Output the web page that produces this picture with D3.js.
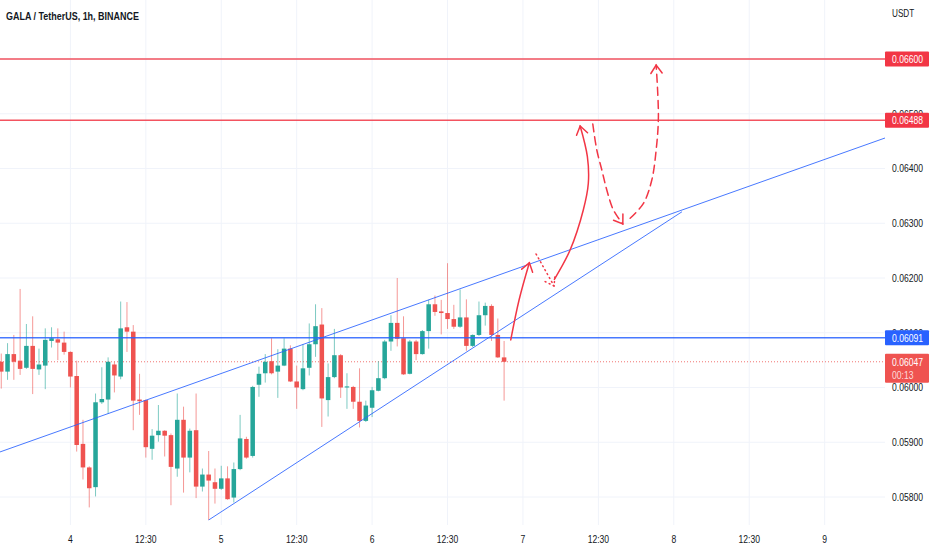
<!DOCTYPE html>
<html>
<head>
<meta charset="utf-8">
<script src="https://cdn.jsdelivr.net/npm/d3@7"></script>
<style>
  body { margin: 0; background: #fff; }
  svg { display: block; font-family: "Liberation Sans", Arial, sans-serif; }
</style>
</head>
<body>
<div id="chart"></div>
<script>
// hourly candles, first one is 11h before day 4 00:00
var firstHour = -11;
var openP  = [0.06047,0.06029,0.06061,0.06049,0.06036,0.06076,0.06033,0.06040,0.06085,0.06088,0.06082,0.06065,0.06021,0.05897,0.05854,0.05818,0.05973,0.05978,0.06042,0.06020,0.06110,0.06102,0.05978,0.05977,0.05888,0.05913,0.05921,0.05913,0.05852,0.05941,0.05872,0.05922,0.05819,0.05841,0.05827,0.05815,0.05834,0.05799,0.05851,0.05906,0.05875,0.06005,0.06026,0.06048,0.06029,0.06040,0.06071,0.06011,0.05997,0.06036,0.06079,0.06115,0.05977,0.06019,0.06059,0.06000,0.06001,0.05974,0.05939,0.05963,0.05994,0.06017,0.06084,0.06118,0.06090,0.06025,0.06084,0.06061,0.06103,0.06152,0.06139,0.06136,0.06125,0.06111,0.06128,0.06076,0.06096,0.06132,0.06149,0.06096,0.06055];
var highP  = [0.06062,0.06081,0.06096,0.06180,0.06116,0.06130,0.06071,0.06108,0.06110,0.06108,0.06102,0.06066,0.06049,0.05941,0.05856,0.05989,0.06037,0.06055,0.06047,0.06157,0.06156,0.06114,0.06025,0.05978,0.05924,0.05968,0.05922,0.05916,0.05989,0.05965,0.05925,0.05989,0.05852,0.05884,0.05852,0.05857,0.05856,0.05863,0.05950,0.05910,0.06003,0.06038,0.06061,0.06090,0.06070,0.06090,0.06077,0.06040,0.06079,0.06117,0.06152,0.06145,0.06044,0.06107,0.06061,0.06026,0.06003,0.06035,0.05976,0.06001,0.06048,0.06087,0.06132,0.06200,0.06130,0.06087,0.06087,0.06105,0.06160,0.06168,0.06160,0.06227,0.06151,0.06179,0.06161,0.06097,0.06157,0.06155,0.06152,0.06126,0.06085];
var lowP   = [0.05998,0.06014,0.06014,0.06023,0.06034,0.05988,0.06023,0.05997,0.06073,0.06050,0.06060,0.06000,0.05883,0.05832,0.05781,0.05801,0.05970,0.05952,0.05991,0.06015,0.06065,0.05922,0.05950,0.05872,0.05868,0.05901,0.05874,0.05785,0.05837,0.05808,0.05845,0.05798,0.05810,0.05758,0.05788,0.05813,0.05795,0.05790,0.05849,0.05870,0.05872,0.05983,0.06009,0.06024,0.05981,0.06039,0.06010,0.05961,0.05995,0.06022,0.06056,0.05928,0.05947,0.06017,0.05981,0.05961,0.05961,0.05927,0.05937,0.05946,0.05993,0.06015,0.06067,0.06075,0.06023,0.06024,0.06050,0.06060,0.06071,0.06131,0.06097,0.06107,0.06107,0.06109,0.06067,0.06074,0.06094,0.06113,0.06085,0.06054,0.05976];
var closeP = [0.06029,0.06061,0.06047,0.06034,0.06076,0.06034,0.06042,0.06087,0.06090,0.06082,0.06065,0.06020,0.05895,0.05854,0.05816,0.05973,0.05979,0.06047,0.06022,0.06108,0.06102,0.05976,0.05975,0.05891,0.05912,0.05921,0.05912,0.05855,0.05941,0.05872,0.05921,0.05819,0.05841,0.05830,0.05815,0.05834,0.05796,0.05851,0.05907,0.05872,0.06001,0.06025,0.06047,0.06026,0.06040,0.06071,0.06011,0.06000,0.06035,0.06079,0.06112,0.05980,0.06019,0.06059,0.06000,0.06002,0.05974,0.05939,0.05967,0.05995,0.06017,0.06084,0.06118,0.06089,0.06024,0.06084,0.06061,0.06103,0.06152,0.06138,0.06136,0.06125,0.06111,0.06128,0.06076,0.06096,0.06132,0.06149,0.06096,0.06055,0.06047];

// axes
var priceTicks = [0.058,0.059,0.060,0.061,0.062,0.063,0.064,0.065,0.066];
var timeTicks  = [0,12,24,36,48,60,72,84,96,108,120];
var timeLabels = ["4","12:30","5","12:30","6","12:30","7","12:30","8","12:30","9"];

// drawings: [hour, price]
var redLevels  = [0.06600, 0.06488];
var blueLevels = [0.06091];
var lastPrice  = 0.06047;
var countdown  = "00:13";
var upperTrend = [[-11.22, 0.058822], [129.6, 0.064557]];
var lowerTrend = [[22, 0.05758], [97.3, 0.06321]];
var arrowA = [[70.06,0.060868],[71.38,0.061598],[73.02,0.062279]];
var arrowB = [[74.09,0.062438],[76.95,0.061854]];
var arrowC = [[77.0,0.061976],[79.5,0.062511],[81.6,0.063242],[82.4,0.063730],[82.25,0.064216],[81.1,0.064776]];
var arrowD = [[83.11,0.064813],[83.75,0.064338],[84.55,0.063973],[85.34,0.063607],[86.39,0.063242],[87.89,0.062986]];
var arrowE = [[89.05,0.063090],[91.17,0.063364],[92.5,0.063790],[93.19,0.064338],[93.55,0.064946],[93.19,0.065890]];

var W = 932, H = 550,
    plotW = 885, plotH = 525,
    squeeze = 0.78;   // the screenshot fonts are narrow

var svg = d3.select('#chart')
    .append('svg')
    .attr('width', W)
    .attr('height', H);

var x = d3.scaleLinear()
    .domain([-11.2, 129.6])
    .range([0, plotW]);

var y = d3.scaleLinear()
    .domain([0.058, 0.066])
    .range([497, 59]);

var candles = openP.map(function (o, i) {
    return { t: firstHour + i, o: o, h: highP[i], l: lowP[i], c: closeP[i] };
});

var green = '#26a69a', red = '#ef5350', lineRed = '#f23645', blue = '#2962ff';

function label(px, py, str, size, fill) {
    return svg.append('text')
        .attr('transform', `translate(${px},${py}) scale(${squeeze},1)`)
        .attr('font-size', size)
        .attr('fill', fill)
        .text(str);
}

// grid
svg.append('g').selectAll('line')
    .data(priceTicks)
    .enter().append('line')
    .attr('x1', 0).attr('x2', plotW)
    .attr('y1', d => y(d)).attr('y2', d => y(d))
    .attr('stroke', '#f0f3fa');

svg.append('g').selectAll('line')
    .data(timeTicks)
    .enter().append('line')
    .attr('x1', d => x(d)).attr('x2', d => x(d))
    .attr('y1', 0).attr('y2', plotH)
    .attr('stroke', '#f0f3fa');

// current price line
svg.append('line')
    .attr('x1', 0).attr('x2', plotW)
    .attr('y1', y(lastPrice)).attr('y2', y(lastPrice))
    .attr('stroke', red)
    .attr('stroke-dasharray', '1,2')
    .attr('opacity', 0.8);

// candles
var bw = (x(1) - x(0)) * 0.72;
var cg = svg.append('g');

cg.selectAll('line.wick')
    .data(candles)
    .enter().append('line')
    .attr('class', 'wick')
    .attr('x1', d => x(d.t)).attr('x2', d => x(d.t))
    .attr('y1', d => y(d.h)).attr('y2', d => y(d.l))
    .attr('stroke', d => d.c >= d.o ? green : red)
    .attr('stroke-opacity', 0.6);

cg.selectAll('rect')
    .data(candles)
    .enter().append('rect')
    .attr('x', d => x(d.t) - bw / 2)
    .attr('width', bw)
    .attr('y', d => y(Math.max(d.o, d.c)))
    .attr('height', d => Math.max(1, Math.abs(y(d.o) - y(d.c))))
    .attr('fill', d => d.c >= d.o ? green : red);

// trend lines
[upperTrend, lowerTrend].forEach(function (t) {
    svg.append('line')
        .attr('x1', x(t[0][0])).attr('y1', y(t[0][1]))
        .attr('x2', x(t[1][0])).attr('y2', y(t[1][1]))
        .attr('stroke', blue)
        .attr('stroke-width', 1)
        .attr('opacity', 0.85);
});

// horizontal levels
svg.append('g').selectAll('line')
    .data(redLevels)
    .enter().append('line')
    .attr('x1', 0).attr('x2', plotW)
    .attr('y1', d => y(d)).attr('y2', d => y(d))
    .attr('stroke', lineRed)
    .attr('stroke-width', 1.5)
    .attr('opacity', 0.85);

svg.append('g').selectAll('line')
    .data(blueLevels)
    .enter().append('line')
    .attr('x1', 0).attr('x2', plotW)
    .attr('y1', d => y(d)).attr('y2', d => y(d))
    .attr('stroke', blue)
    .attr('stroke-width', 1.5)
    .attr('opacity', 0.85);

// arrows
var curve = d3.line()
    .x(d => x(d[0]))
    .y(d => y(d[1]))
    .curve(d3.curveCatmullRom);

function arrow(pts, dash, headDash) {
    var g = svg.append('g')
        .attr('fill', 'none')
        .attr('stroke', lineRed)
        .attr('stroke-width', 1.5)
        .attr('stroke-linecap', 'round');
    g.append('path')
        .attr('stroke-dasharray', dash)
        .attr('d', curve(pts));
    var n = pts.length;
    var tx = x(pts[n - 1][0]), ty = y(pts[n - 1][1]);
    var px = x(pts[n - 2][0]), py = y(pts[n - 2][1]);
    var a = Math.atan2(py - ty, px - tx), len = 10, sp = 0.6;
    g.append('path')
        .attr('stroke-dasharray', headDash)
        .attr('d', 'M' + (tx + len * Math.cos(a - sp)) + ',' + (ty + len * Math.sin(a - sp)) +
                   'L' + tx + ',' + ty +
                   'L' + (tx + len * Math.cos(a + sp)) + ',' + (ty + len * Math.sin(a + sp)));
}

arrow(arrowA, null, null);
arrow(arrowB, '1,3.5', '1,3.5');
arrow(arrowC, null, null);
arrow(arrowD, '8,5', null);
arrow(arrowE, '8,5', null);

// title
label(6, 20, 'GALA / TetherUS, 1h, BINANCE', 11.5, '#131722')
    .attr('font-weight', 600);

// price axis
label(892, 17, 'USDT', 10.5, '#131722');

priceTicks.forEach(function (p) {
    label(892, y(p), p.toFixed(5), 11, '#131722').attr('dy', '0.35em');
});

// time axis
timeTicks.forEach(function (t, i) {
    label(x(t), 543, timeLabels[i], 11, '#131722').attr('text-anchor', 'middle');
});

// price labels
function priceBox(p, color) {
    svg.append('rect')
        .attr('x', plotW).attr('y', y(p) - 7.5)
        .attr('width', 44).attr('height', 15)
        .attr('rx', 1)
        .attr('fill', color);
    label(892, y(p), p.toFixed(5), 11, '#fff').attr('dy', '0.35em');
}
redLevels.forEach(p => priceBox(p, lineRed));
blueLevels.forEach(p => priceBox(p, blue));

svg.append('rect')
    .attr('x', plotW).attr('y', y(lastPrice) - 8)
    .attr('width', 44).attr('height', 29)
    .attr('rx', 1)
    .attr('fill', red);
label(892, y(lastPrice), lastPrice.toFixed(5), 11, '#fff').attr('dy', '0.35em');
label(892, y(lastPrice) + 13, countdown, 11, '#fff')
    .attr('dy', '0.35em')
    .attr('fill-opacity', 0.8);
</script>
</body>
</html>
